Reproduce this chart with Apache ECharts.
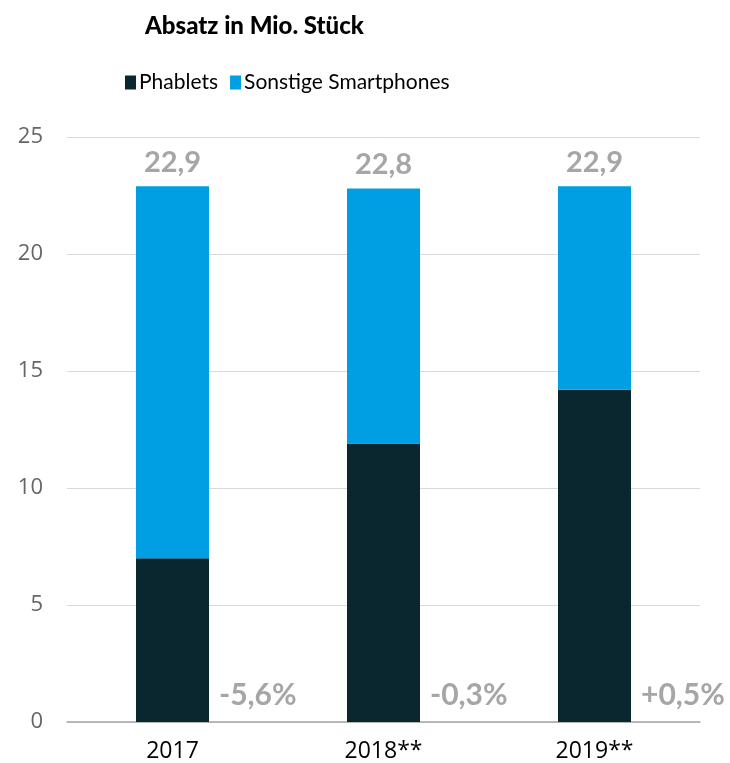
<!DOCTYPE html>
<html>
<head>
<meta charset="utf-8">
<script src="https://cdn.jsdelivr.net/npm/echarts@6/dist/echarts.min.js"></script>
<style>html,body{margin:0;padding:0;background:#fff}#c{width:730px;height:763px}</style>
</head>
<body>
<div id="c"></div>
<script>
var categories = ['2017', '2018**', '2019**'];
var phablets = [7.0, 11.9, 14.2];
var totals = [22.9, 22.8, 22.9];
var sonstige = [15.9, 10.9, 8.7];
var changes = ['-5,6%', '-0,3%', '+0,5%'];
var yTicks = [0, 5, 10, 15, 20, 25];

var TXT = "Lato";
var NUM = "'Open Sans'";
var BOLDNUM = "Lato";
var chart = echarts.init(document.getElementById('c'));
chart.setOption({
  animation: false,
  title: {
    text: 'Absatz in Mio. Stück',
    left: 140, top: 9,
    textStyle: { fontFamily: TXT, fontWeight: 900, fontSize: 24, color: '#000' }
  },
  legend: {
    left: 120, top: 67,
    itemWidth: 11, itemHeight: 14, itemGap: 12,
    icon: 'rect',
    textStyle: { fontFamily: TXT, fontSize: 21, color: '#000', padding: [0, 0, 0, -2] },
    data: ['Phablets', 'Sonstige Smartphones']
  },
  grid: { left: 67, right: 30, top: 137, bottom: 41, containLabel: false },
  xAxis: {
    type: 'category',
    data: categories,
    axisLine: { lineStyle: { color: '#a6a6a6', width: 1.5 } },
    axisTick: { show: false },
    axisLabel: { fontFamily: NUM, fontSize: 23, color: '#000', margin: 18 }
  },
  yAxis: {
    type: 'value',
    min: yTicks[0], max: yTicks[yTicks.length - 1], interval: 5,
    axisLine: { show: false },
    axisTick: { show: false },
    splitLine: { lineStyle: { color: '#d9d9d9', width: 1 } },
    axisLabel: { fontFamily: NUM, fontSize: 22, color: '#666', margin: 24 }
  },
  series: [
    {
      name: 'Phablets', type: 'bar', stack: 's', barWidth: 73,
      itemStyle: { color: '#0a2730' },
      data: phablets,
      label: {
        show: true,
        position: ['100%', '100%'],
        align: 'left', verticalAlign: 'bottom',
        offset: [10, -12],
        formatter: function (p) { return changes[p.dataIndex]; },
        fontFamily: BOLDNUM, fontWeight: 'bold', fontSize: 30, color: '#a6a6a6'
      }
    },
    {
      name: 'Sonstige Smartphones', type: 'bar', stack: 's', barWidth: 73,
      itemStyle: { color: '#009fe3' },
      data: sonstige,
      label: {
        show: true, position: 'top', distance: 9,
        formatter: function (p) { return String(totals[p.dataIndex].toFixed(1)).replace('.', ','); },
        fontFamily: BOLDNUM, fontWeight: 'bold', fontSize: 29, color: '#a6a6a6'
      }
    }
  ]
});
</script>
</body>
</html>
